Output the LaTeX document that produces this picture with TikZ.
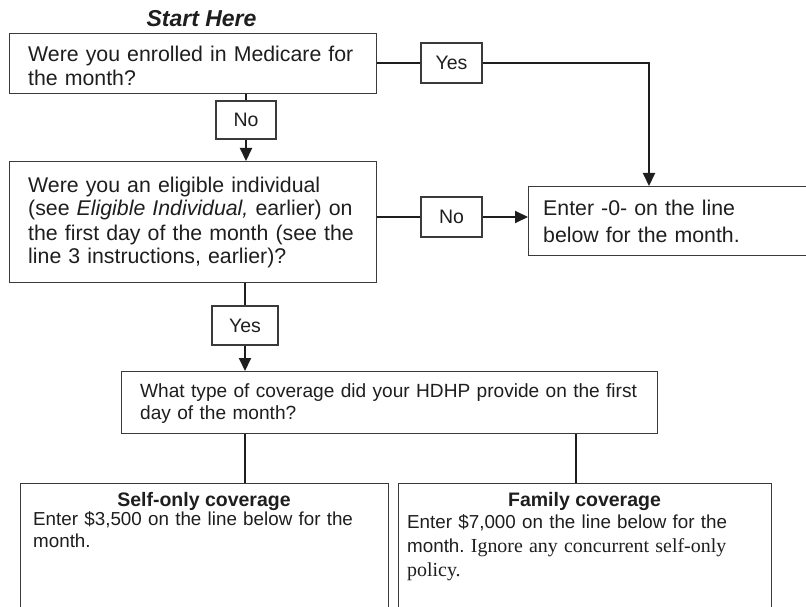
\documentclass[tikz,border=0pt]{standalone}
\usepackage{fontspec}
\setmainfont{Liberation Sans}
\newfontfamily\camserif{Liberation Serif}
\usetikzlibrary{arrows.meta}
\definecolor{ink}{HTML}{1E1E1E}
\definecolor{frame}{HTML}{3A3A3A}
\tikzset{
  frm/.style={draw=frame, line width=1.1pt, inner sep=0pt, anchor=north west, rectangle},
  lbl/.style={draw=frame, line width=1.1pt, inner sep=0pt, rectangle, text=ink,
    font=\fontsize{19.5}{22}\selectfont},
  txt/.style={anchor=base west, inner sep=0pt, align=left, text=ink},
  conn/.style={draw=ink, line width=2pt},
  arr/.style={conn, -{Triangle[length=13pt,width=12pt]}},
  big/.style={font=\fontsize{21.3}{24}\selectfont},
}
\frenchspacing
\begin{document}
\begin{tikzpicture}[x=1pt,y=-1pt]
\path[clip] (0,0) rectangle (806,607);
\fill[white] (0,0) rectangle (806,607);

% title
\node[anchor=base, inner sep=0pt, text=ink, font=\bfseries\itshape\fontsize{23}{26}\selectfont] (start) at (201.5,27) {Start Here};

% frames
\node[frm, minimum width=367, minimum height=60] (q1) at (9,33) {};
\node[frm, minimum width=367, minimum height=121] (q2) at (9,161) {};
\node[frm, minimum width=320, minimum height=69] (enter) at (528,186) {};
\node[frm, minimum width=536, minimum height=62] (q3) at (121,371) {};
\node[frm, minimum width=368, minimum height=160] (self) at (20,483) {};
\node[frm, minimum width=373, minimum height=160] (fam) at (398,483) {};

% texts
\node[txt, big, text width=360] (q1t) at (28,62) {Were you enrolled in Medicare for\\the month?};
\node[txt, big, text width=360] (q2t) at (28,192) {Were you an eligible individual\\(see \textit{Eligible Individual,} earlier) on\\the first day of the month (see the\\line 3 instructions, earlier)?};
\node[txt, text width=270, font=\fontsize{21.3}{27}\selectfont] (entert) at (543,215) {Enter -0- on the line\\below for the month.};
\node[txt, text width=520, font=\fontsize{19.1}{22}\selectfont] (q3t) at (140,397) {What type of coverage did your HDHP provide on the first\\day of the month?};
\node[anchor=base, inner sep=0pt, text=ink, font=\bfseries\fontsize{19.5}{22}\selectfont] (selft) at (204,506) {Self-only coverage};
\node[txt, text width=355, font=\fontsize{18.8}{22}\selectfont] (selfb) at (33,525) {Enter \$3,500 on the line below for the\\month.};
\node[anchor=base, inner sep=0pt, text=ink, font=\bfseries\fontsize{19.5}{22}\selectfont] (famt) at (584.5,506) {Family coverage};
\node[txt, text width=360, font=\fontsize{18.8}{24}\selectfont] (famb) at (407,528) {Enter \$7,000 on the line below for the\\month. {\camserif\fontsize{19.9}{24}\selectfont Ignore any concurrent self-only}\\{\camserif\fontsize{19.9}{24}\selectfont policy.}};

% label boxes
\node[lbl, minimum width=61, minimum height=40] (yes1) at (451.5,63) {Yes};
\node[lbl, minimum width=60, minimum height=38] (no1) at (246,120) {No};
\node[lbl, minimum width=61, minimum height=40] (no2) at (451.5,217) {No};
\node[lbl, minimum width=66, minimum height=39] (yes2) at (245,325.5) {Yes};

% connectors
\draw[conn] (q1.east |- yes1.west) -- (yes1.west);
\draw[arr] (yes1.east) -| ([xshift=121pt]enter.north west);
\draw[conn] (no1.north |- q1.south) -- (no1.north);
\draw[arr] (no1.south) -- (no1.south |- q2.north);
\draw[conn] (q2.east |- no2.west) -- (no2.west);
\draw[arr] (no2.east) -- (no2.east -| enter.west);
\draw[conn] (yes2.north |- q2.south) -- (yes2.north);
\draw[arr] (yes2.south) -- (yes2.south |- q3.north);
\draw[conn] (yes2.south |- q3.south) -- (yes2.south |- self.north);
\draw[conn] ([xshift=178pt]fam.north west |- q3.south) -- ([xshift=178pt]fam.north west);
\end{tikzpicture}
\end{document}
